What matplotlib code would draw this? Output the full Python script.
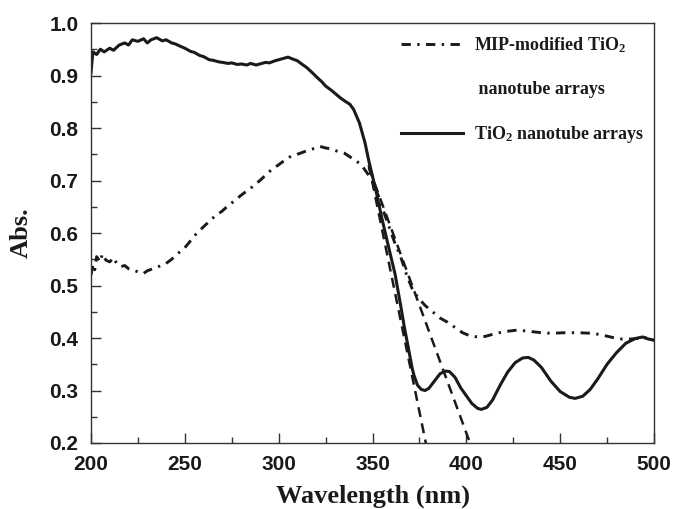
import numpy as np
import matplotlib
matplotlib.use("Agg")
import matplotlib.pyplot as plt
from matplotlib.lines import Line2D

plt.rcParams['mathtext.fontset'] = 'custom'
plt.rcParams['mathtext.bf'] = 'Liberation Serif:bold'
plt.rcParams['mathtext.rm'] = 'Liberation Serif:bold'
plt.rcParams['mathtext.default'] = 'bf'

# TiO2 nanotube arrays (solid)
wl_tio2 = [200, 201, 203, 205, 207, 210, 212, 215, 218, 220, 222, 225, 228, 230, 232,
           235, 238, 240, 243, 245, 248, 250, 253, 255, 258, 260, 263, 265, 268, 270,
           273, 275, 278, 280, 283, 285, 288, 290, 293, 295, 298, 300, 303, 305, 307,
           310, 313, 315, 318, 320, 323, 325, 328, 330, 333, 335, 338, 340, 343, 346,
           348, 350, 352, 355, 358, 360, 362, 365, 367, 369, 371, 372, 374, 376, 378,
           380, 383, 386, 389, 391, 394, 397, 400, 403, 406, 408, 411, 414, 418, 422,
           426, 430, 433, 436, 440, 445, 450, 455, 458, 462, 466, 470, 475, 480, 485,
           490, 494, 497, 500]
abs_tio2 = [0.905, 0.945, 0.94, 0.95, 0.945, 0.952, 0.948, 0.958, 0.962, 0.958, 0.968,
            0.965, 0.97, 0.962, 0.968, 0.972, 0.966, 0.968, 0.962, 0.96, 0.955, 0.952,
            0.946, 0.944, 0.938, 0.936, 0.93, 0.929, 0.926, 0.925, 0.923, 0.924, 0.921,
            0.922, 0.92, 0.923, 0.92, 0.922, 0.925, 0.924, 0.928, 0.93, 0.933, 0.935,
            0.932, 0.928, 0.92, 0.915, 0.905, 0.898, 0.888, 0.88, 0.872, 0.866, 0.857,
            0.852, 0.845, 0.835, 0.81, 0.772, 0.738, 0.708, 0.678, 0.628, 0.582, 0.552,
            0.522, 0.462, 0.42, 0.383, 0.345, 0.33, 0.31, 0.302, 0.300, 0.304, 0.318,
            0.332, 0.337, 0.336, 0.325, 0.305, 0.29, 0.275, 0.266, 0.264, 0.268, 0.282,
            0.31, 0.335, 0.353, 0.362, 0.363, 0.358, 0.344, 0.318, 0.298, 0.287, 0.285,
            0.289, 0.302, 0.322, 0.35, 0.372, 0.39, 0.399, 0.402, 0.398, 0.396]

# MIP-modified TiO2 nanotube arrays (dash-dot)
wl_mip = [200, 201, 202, 203, 205, 206, 208, 210, 212, 214, 216, 218, 220, 222, 225,
          228, 230, 233, 236, 240, 243, 246, 250, 253, 256, 260, 263, 266, 270, 273,
          276, 280, 283, 286, 290, 293, 296, 300, 303, 306, 310, 313, 316, 320, 322,
          325, 328, 331, 335, 338, 341, 344, 347, 350, 353, 355, 357.5, 360, 362, 365,
          368, 371, 374, 378, 382, 386, 390, 394, 398, 402, 406, 410, 415, 420, 427,
          433, 440, 445, 452, 460, 467, 472, 478, 483, 488, 493, 497, 500]
abs_mip = [0.52, 0.54, 0.53, 0.555, 0.545, 0.56, 0.548, 0.545, 0.553, 0.54, 0.536,
           0.538, 0.532, 0.53, 0.526, 0.523, 0.528, 0.532, 0.536, 0.542, 0.55, 0.56,
           0.572, 0.585, 0.598, 0.612, 0.622, 0.632, 0.642, 0.652, 0.66, 0.672, 0.68,
           0.688, 0.70, 0.71, 0.72, 0.73, 0.738, 0.745, 0.75, 0.754, 0.758, 0.762,
           0.765, 0.762, 0.76, 0.756, 0.752, 0.745, 0.738, 0.73, 0.715, 0.70, 0.672,
           0.65, 0.625, 0.60, 0.58, 0.555, 0.522, 0.495, 0.478, 0.462, 0.45, 0.438,
           0.43, 0.42, 0.41, 0.404, 0.402, 0.403, 0.408, 0.412, 0.415, 0.413, 0.41,
           0.409, 0.41, 0.41, 0.409, 0.406, 0.401, 0.398, 0.398, 0.40, 0.40, 0.395]

# tangent (extrapolation) lines
tan1_x = [348, 379]
tan1_y = [0.73, 0.19]
tan2_x = [348, 403]
tan2_y = [0.725, 0.19]

ink = '#1a1a1a'
dashdot = (0, (3.2, 2.2, 0.8, 2.2))

fig = plt.figure(figsize=(6.74, 5.09), dpi=100)
ax = fig.add_axes([91 / 674, 66 / 509, 563 / 674, 420 / 509])

ax.plot(wl_mip, abs_mip, color=ink, lw=2.1, linestyle=dashdot)
ax.plot(wl_tio2, abs_tio2, color=ink, lw=2.2)
ax.plot(tan1_x, tan1_y, color=ink, lw=1.8, linestyle=(0, (4, 2.6)))
ax.plot(tan2_x, tan2_y, color=ink, lw=1.8, linestyle=(0, (4, 2.6)))

ax.set_xlim(200, 500)
ax.set_ylim(0.2, 1.0)
ax.set_xticks(np.arange(200, 501, 50))
ax.set_xticks(np.arange(225, 500, 50), minor=True)
ax.set_yticks(np.arange(0.2, 1.01, 0.1))
ax.set_yticks(np.arange(0.25, 1.0, 0.1), minor=True)
ax.yaxis.set_major_formatter(matplotlib.ticker.FormatStrFormatter('%.1f'))

ax.tick_params(which='both', direction='in', top=False, right=False, colors='#333333')
ax.tick_params(which='major', length=7, width=1, pad=9)
ax.tick_params(which='minor', length=4, width=1)
for lab in ax.get_xticklabels() + ax.get_yticklabels():
    lab.set_fontfamily('Liberation Sans')
    lab.set_fontweight('bold')
    lab.set_fontsize(15)
    lab.set_color(ink)
for s in ax.spines.values():
    s.set_color('#333333')
    s.set_linewidth(1.0)

ax.set_xlabel('Wavelength (nm)', fontfamily='Liberation Serif', fontweight='bold',
              fontsize=19, color=ink, labelpad=7)
ax.set_ylabel('Abs.', fontfamily='Liberation Serif', fontweight='bold',
              fontsize=19, color=ink, labelpad=12)

handles = [
    Line2D([], [], color=ink, lw=2.1, linestyle=dashdot),
    Line2D([], [], linestyle='none'),
    Line2D([], [], color=ink, lw=2.2),
]
labels = [r'MIP-modified TiO$_2$', r' nanotube arrays', r'TiO$_2$ nanotube arrays']
leg = ax.legend(handles, labels, loc='upper right', frameon=False,
                prop={'family': 'Liberation Serif', 'weight': 'bold', 'size': 13},
                handlelength=3.4, handletextpad=0.6, labelspacing=1.45,
                borderaxespad=0.15, bbox_to_anchor=(1.0, 0.995))
for t in leg.get_texts():
    t.set_color(ink)

fig.savefig('out.png', dpi=100)
